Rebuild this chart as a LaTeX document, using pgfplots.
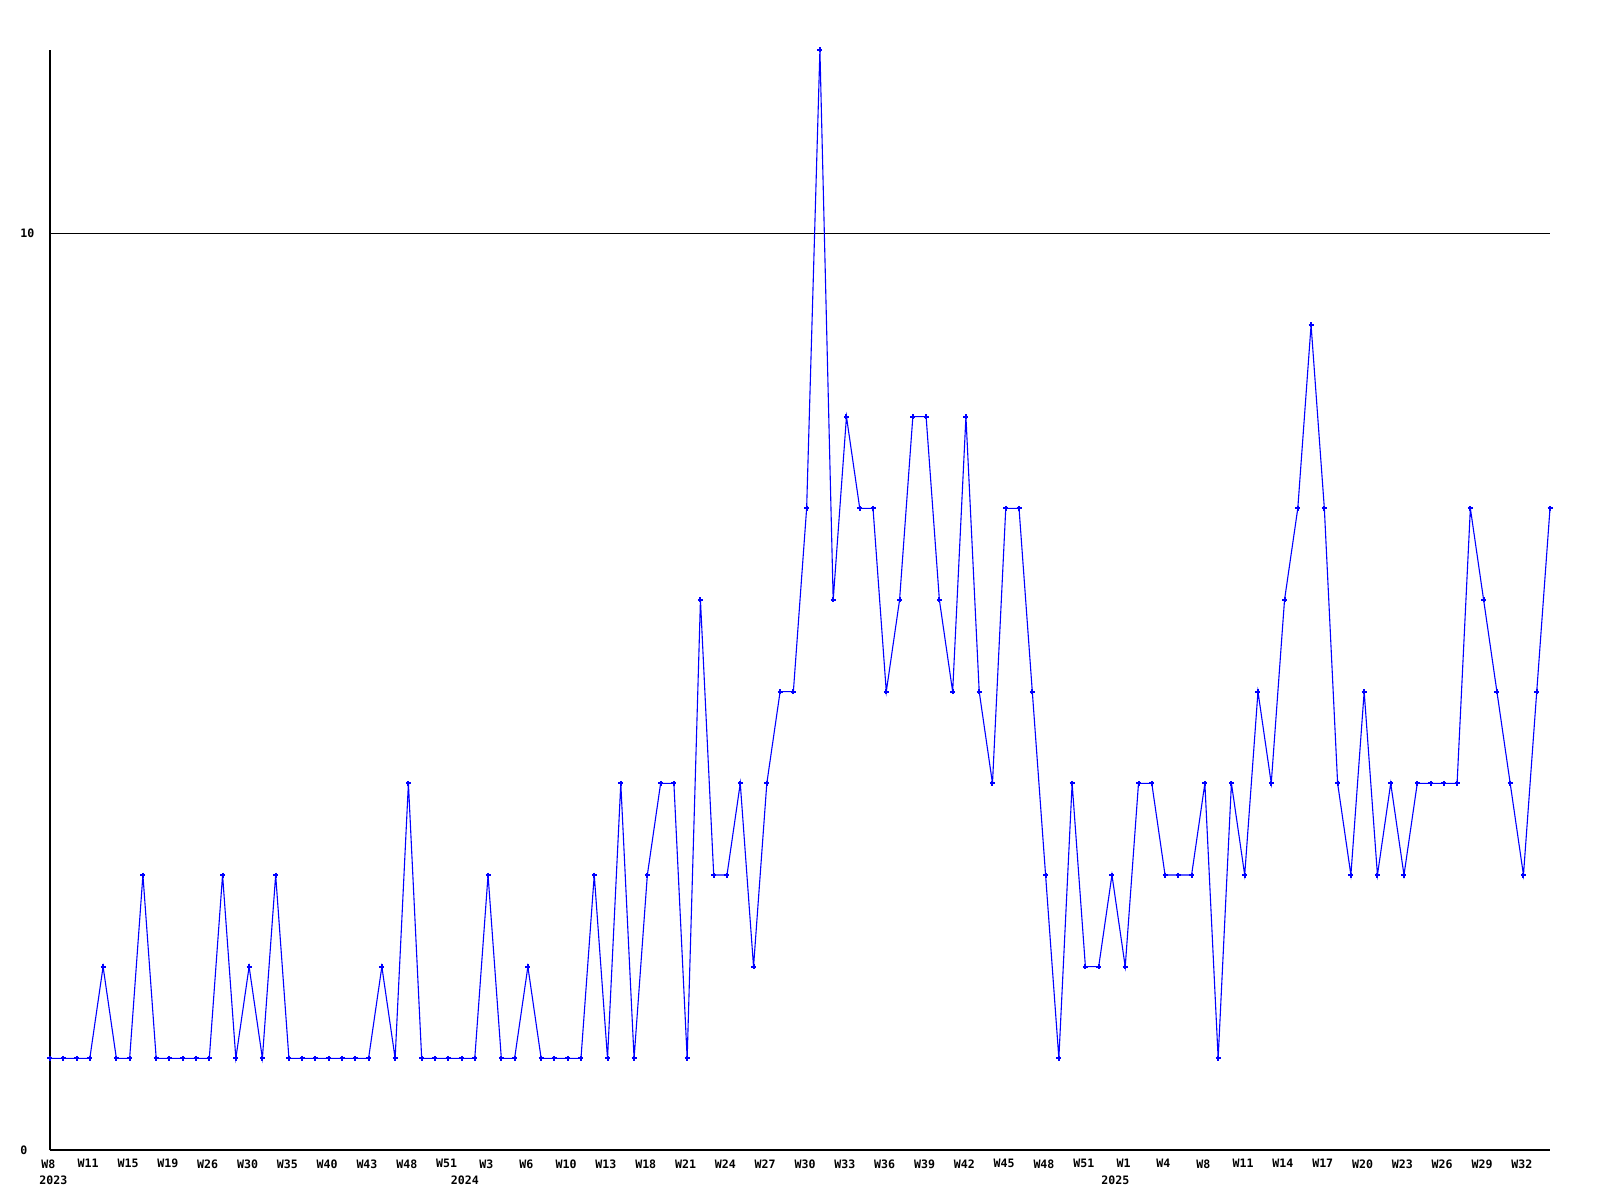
\documentclass[border=0pt]{standalone}
\usepackage{pgfplots}
\pgfplotsset{compat=1.18}
\usepackage{fontspec}
\setmainfont{DejaVu Sans Mono}
\newcommand{\lblfont}{\fontsize{5.8}{6}\selectfont\bfseries}
\begin{document}
\begin{tikzpicture}
\useasboundingbox (-25pt,-25pt) rectangle (775pt,575pt);
\begin{axis}[
  at={(0pt,0pt)}, anchor=south west,
  scale only axis, width=750pt, height=550pt,
  xmin=0, xmax=113, ymin=0, ymax=12,
  axis x line*=bottom, axis y line*=left,
  axis line style={black, line width=0.6pt, -},
  ytick={0,10}, yticklabels={0,10},
  ymajorgrids, grid style={black, line width=0.5pt},
  major tick length=0pt,
  xtick={0,3,...,111},
  xticklabels={W8,W11,W15,W19,W26,W30,W35,W40,W43,W48,W51,W3,W6,W10,W13,W18,W21,W24,W27,W30,W33,W36,W39,W42,W45,W48,W51,W1,W4,W8,W11,W14,W17,W20,W23,W26,W29,W32},
  tick label style={font=\lblfont},
  xticklabel style={anchor=north, inner sep=0pt, yshift=-4.5pt, xshift=-0.8pt},
  yticklabel style={anchor=west, inner sep=0pt, xshift=-15pt},
  clip=false,
]
\addplot[blue, line width=0.55pt, mark=+, mark size=1.25pt, mark options={line width=1pt}] coordinates {
(0,1)(1,1)(2,1)(3,1)(4,2)(5,1)(6,1)(7,3)(8,1)(9,1)
(10,1)(11,1)(12,1)(13,3)(14,1)(15,2)(16,1)(17,3)(18,1)(19,1)
(20,1)(21,1)(22,1)(23,1)(24,1)(25,2)(26,1)(27,4)(28,1)(29,1)
(30,1)(31,1)(32,1)(33,3)(34,1)(35,1)(36,2)
(37,1)(38,1)(39,1)(40,1)(41,3)(42,1)(43,4)(44,1)(45,3)(46,4)
(47,4)(48,1)(49,6)(50,3)(51,3)(52,4)(53,2)(54,4)(55,5)(56,5)
(57,7)(58,12)(59,6)(60,8)(61,7)(62,7)(63,5)(64,6)(65,8)(66,8)
(67,6)(68,5)(69,8)(70,5)(71,4)(72,7)(73,7)(74,5)(75,3)(76,1)
(77,4)(78,2)(79,2)(80,3)(81,2)(82,4)(83,4)(84,3)(85,3)(86,3)
(87,4)(88,1)(89,4)(90,3)(91,5)(92,4)(93,6)(94,7)(95,9)(96,7)
(97,4)(98,3)(99,5)(100,3)(101,4)(102,3)(103,4)(104,4)(105,4)(106,4)
(107,7)(108,6)(109,5)(110,4)(111,3)(112,5)(113,7)
};
\node[font=\lblfont, anchor=north, inner sep=0pt, xshift=1.7pt, yshift=-12.5pt] at (axis cs:0,0) {2023};
\node[font=\lblfont, anchor=north, inner sep=0pt, xshift=1.7pt, yshift=-12.5pt] at (axis cs:31,0) {2024};
\node[font=\lblfont, anchor=north, inner sep=0pt, xshift=1.7pt, yshift=-12.5pt] at (axis cs:80,0) {2025};
\end{axis}
\end{tikzpicture}
\end{document}
